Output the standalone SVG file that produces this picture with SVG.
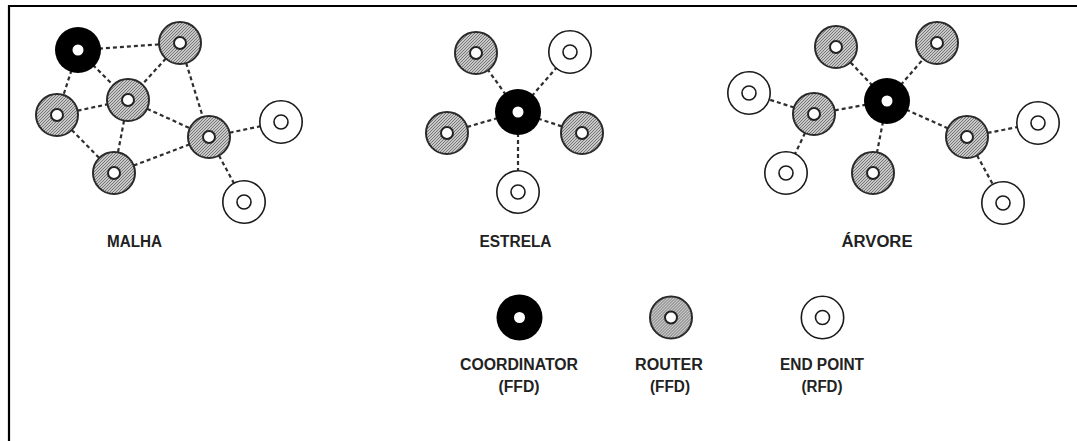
<svg xmlns="http://www.w3.org/2000/svg" width="1077" height="441" viewBox="0 0 1077 441">
<style>
.lnk{stroke:#2e2e2e;stroke-width:2.2;stroke-dasharray:4 3;fill:none}
.ro{fill:url(#hatch);stroke:#2a2a2a;stroke-width:2}
.hole{fill:#fff;stroke:#222;stroke-width:2}
.co{fill:#000}
.coh{fill:#fff}
.ep{fill:#fff;stroke:#1a1a1a;stroke-width:1.6}
.lbl{font-family:"Liberation Sans",Arial,sans-serif;font-size:16px;font-weight:bold;fill:#222;text-anchor:middle}
</style>
<defs>
<pattern id="hatch" width="3" height="3" patternUnits="userSpaceOnUse">
<rect width="3" height="3" fill="#c8c8c8"/>
<path d="M0,3 L3,0 M-1,1 L1,-1 M2,4 L4,2" stroke="#767676" stroke-width="1"/>
</pattern>
<g id="R"><circle r="21" class="ro"/><circle r="6" class="hole"/></g>
<g id="C"><circle r="23" class="co"/><circle r="5.5" class="coh"/></g>
<g id="E"><circle r="21.2" class="ep"/><circle r="7" class="ep"/></g>
</defs>
<path d="M9,441 V6 H1077" fill="none" stroke="#000" stroke-width="2.2"/>
<g id="connectors">
<line class="lnk" x1="78" y1="50" x2="180" y2="43"/>
<line class="lnk" x1="78" y1="50" x2="57" y2="115"/>
<line class="lnk" x1="78" y1="50" x2="128" y2="100"/>
<line class="lnk" x1="180" y1="43" x2="128" y2="100"/>
<line class="lnk" x1="180" y1="43" x2="209" y2="137"/>
<line class="lnk" x1="57" y1="115" x2="128" y2="100"/>
<line class="lnk" x1="57" y1="115" x2="114" y2="173"/>
<line class="lnk" x1="128" y1="100" x2="114" y2="173"/>
<line class="lnk" x1="128" y1="100" x2="209" y2="137"/>
<line class="lnk" x1="114" y1="173" x2="209" y2="137"/>
<line class="lnk" x1="209" y1="137" x2="281" y2="122"/>
<line class="lnk" x1="209" y1="137" x2="244" y2="202"/>
<line class="lnk" x1="518" y1="112" x2="476" y2="53"/>
<line class="lnk" x1="518" y1="112" x2="570" y2="52"/>
<line class="lnk" x1="518" y1="112" x2="447" y2="133"/>
<line class="lnk" x1="518" y1="112" x2="582" y2="133"/>
<line class="lnk" x1="518" y1="112" x2="518" y2="192"/>
<line class="lnk" x1="887" y1="101" x2="836" y2="47"/>
<line class="lnk" x1="887" y1="101" x2="937" y2="43"/>
<line class="lnk" x1="887" y1="101" x2="814" y2="114"/>
<line class="lnk" x1="887" y1="101" x2="873" y2="173"/>
<line class="lnk" x1="887" y1="101" x2="967" y2="137"/>
<line class="lnk" x1="814" y1="114" x2="749" y2="93"/>
<line class="lnk" x1="814" y1="114" x2="786" y2="173"/>
<line class="lnk" x1="967" y1="137" x2="1038" y2="123"/>
<line class="lnk" x1="967" y1="137" x2="1003" y2="203"/>
</g>
<g id="mesh-coord"><use href="#C" x="78" y="50"/></g>
<g id="mesh-r1"><use href="#R" x="180" y="43"/></g>
<g id="mesh-r2"><use href="#R" x="57" y="115"/></g>
<g id="mesh-r3"><use href="#R" x="128" y="100"/></g>
<g id="mesh-r4"><use href="#R" x="209" y="137"/></g>
<g id="mesh-r5"><use href="#R" x="114" y="173"/></g>
<g id="mesh-e1"><use href="#E" x="281" y="122"/></g>
<g id="mesh-e2"><use href="#E" x="244" y="202"/></g>
<g id="star-coord"><use href="#C" x="518" y="112"/></g>
<g id="star-r1"><use href="#R" x="476" y="53"/></g>
<g id="star-e1"><use href="#E" x="570" y="52"/></g>
<g id="star-r2"><use href="#R" x="447" y="133"/></g>
<g id="star-r3"><use href="#R" x="582" y="133"/></g>
<g id="star-e2"><use href="#E" x="518" y="192"/></g>
<g id="tree-coord"><use href="#C" x="887" y="101"/></g>
<g id="tree-r1"><use href="#R" x="836" y="47"/></g>
<g id="tree-r2"><use href="#R" x="937" y="43"/></g>
<g id="tree-r3"><use href="#R" x="814" y="114"/></g>
<g id="tree-r4"><use href="#R" x="873" y="173"/></g>
<g id="tree-r5"><use href="#R" x="967" y="137"/></g>
<g id="tree-e1"><use href="#E" x="749" y="93"/></g>
<g id="tree-e2"><use href="#E" x="786" y="173"/></g>
<g id="tree-e3"><use href="#E" x="1038" y="123"/></g>
<g id="tree-e4"><use href="#E" x="1003" y="203"/></g>
<g id="labels">
<text class="lbl" x="134.5" y="247" textLength="55" lengthAdjust="spacingAndGlyphs">MALHA</text>
<text class="lbl" x="515.5" y="247" textLength="72" lengthAdjust="spacingAndGlyphs">ESTRELA</text>
<text class="lbl" x="877" y="247" textLength="71" lengthAdjust="spacingAndGlyphs">ÁRVORE</text>
</g>
<g id="legend-coord"><use href="#C" x="519.5" y="317.5"/>
<text class="lbl" x="519" y="370" textLength="118" lengthAdjust="spacingAndGlyphs">COORDINATOR</text><text class="lbl" x="519" y="392" textLength="41" lengthAdjust="spacingAndGlyphs">(FFD)</text></g>
<g id="legend-router"><use href="#R" x="671" y="317.5"/>
<text class="lbl" x="669" y="370" textLength="68" lengthAdjust="spacingAndGlyphs">ROUTER</text><text class="lbl" x="670" y="392" textLength="40" lengthAdjust="spacingAndGlyphs">(FFD)</text></g>
<g id="legend-end"><use href="#E" x="822.5" y="317.5"/>
<text class="lbl" x="822" y="370" textLength="84" lengthAdjust="spacingAndGlyphs">END POINT</text><text class="lbl" x="822" y="392" textLength="41" lengthAdjust="spacingAndGlyphs">(RFD)</text></g>
</svg>
